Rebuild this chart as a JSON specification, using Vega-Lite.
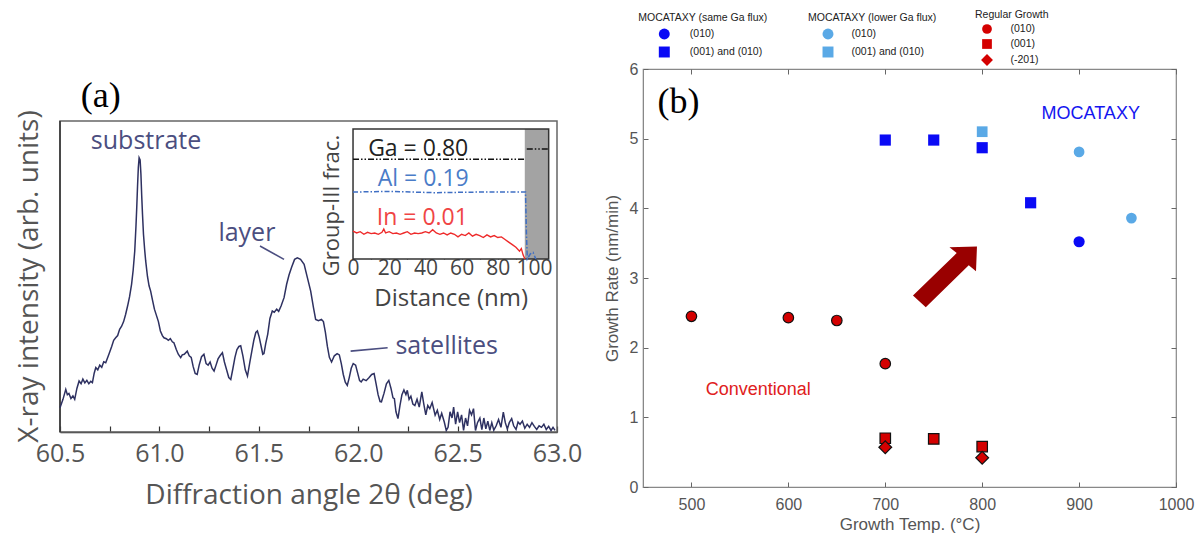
{
  "$schema": "https://vega.github.io/schema/vega-lite/v6.json",
  "background": "white",
  "padding": {"left": 15, "top": 9, "right": 0, "bottom": 0},
  "bounds": "flush",
  "spacing": 86,
  "config": {"view": {"stroke": null}, "axis": {"grid": false}},
  "datasets": {
    "xrd": [
      {"angle":60.5,"intensity":7.8},{"angle":60.515,"intensity":10.5},{"angle":60.529,"intensity":13.7},{"angle":60.537,"intensity":12.0},{"angle":60.545,"intensity":12.4},{"angle":60.555,"intensity":10.8},{"angle":60.565,"intensity":11.6},{"angle":60.574,"intensity":10.5},{"angle":60.585,"intensity":14.0},{"angle":60.596,"intensity":16.4},{"angle":60.606,"intensity":15.5},{"angle":60.615,"intensity":17.0},{"angle":60.625,"intensity":15.8},{"angle":60.635,"intensity":16.6},{"angle":60.645,"intensity":15.5},{"angle":60.655,"intensity":16.3},{"angle":60.663,"intensity":15.9},{"angle":60.672,"intensity":18.9},{"angle":60.68,"intensity":20.7},{"angle":60.69,"intensity":20.0},{"angle":60.7,"intensity":21.5},{"angle":60.71,"intensity":20.8},{"angle":60.72,"intensity":22.6},{"angle":60.73,"intensity":22.3},{"angle":60.746,"intensity":25.0},{"angle":60.76,"intensity":27.5},{"angle":60.77,"intensity":29.5},{"angle":60.78,"intensity":30.3},{"angle":60.79,"intensity":31.0},{"angle":60.8,"intensity":33.0},{"angle":60.81,"intensity":34.0},{"angle":60.82,"intensity":35.5},{"angle":60.83,"intensity":37.8},{"angle":60.84,"intensity":40.5},{"angle":60.85,"intensity":43.5},{"angle":60.86,"intensity":47.5},{"angle":60.868,"intensity":52.0},{"angle":60.876,"intensity":58.2},{"angle":60.882,"intensity":66.0},{"angle":60.886,"intensity":72.1},{"angle":60.89,"intensity":79.0},{"angle":60.894,"intensity":85.0},{"angle":60.898,"intensity":88.2},{"angle":60.903,"intensity":87.5},{"angle":60.907,"intensity":83.0},{"angle":60.911,"intensity":76.0},{"angle":60.915,"intensity":70.0},{"angle":60.92,"intensity":63.5},{"angle":60.926,"intensity":58.5},{"angle":60.931,"intensity":55.0},{"angle":60.94,"intensity":50.0},{"angle":60.948,"intensity":47.0},{"angle":60.956,"intensity":45.3},{"angle":60.965,"intensity":42.5},{"angle":60.975,"intensity":39.5},{"angle":60.985,"intensity":37.5},{"angle":60.995,"intensity":35.5},{"angle":61.005,"intensity":32.5},{"angle":61.015,"intensity":31.0},{"angle":61.023,"intensity":30.3},{"angle":61.035,"intensity":30.0},{"angle":61.045,"intensity":29.5},{"angle":61.055,"intensity":30.0},{"angle":61.065,"intensity":29.0},{"angle":61.073,"intensity":28.7},{"angle":61.085,"intensity":26.5},{"angle":61.095,"intensity":25.0},{"angle":61.107,"intensity":23.9},{"angle":61.115,"intensity":24.8},{"angle":61.125,"intensity":25.0},{"angle":61.14,"intensity":26.0},{"angle":61.15,"intensity":24.5},{"angle":61.16,"intensity":24.0},{"angle":61.17,"intensity":21.0},{"angle":61.18,"intensity":18.8},{"angle":61.19,"intensity":18.5},{"angle":61.2,"intensity":21.5},{"angle":61.212,"intensity":24.2},{"angle":61.224,"intensity":25.0},{"angle":61.235,"intensity":22.0},{"angle":61.245,"intensity":21.5},{"angle":61.255,"intensity":22.5},{"angle":61.265,"intensity":20.5},{"angle":61.275,"intensity":19.6},{"angle":61.285,"intensity":21.5},{"angle":61.295,"intensity":23.5},{"angle":61.305,"intensity":24.5},{"angle":61.317,"intensity":25.5},{"angle":61.327,"intensity":22.5},{"angle":61.338,"intensity":20.0},{"angle":61.349,"intensity":17.5},{"angle":61.359,"intensity":16.9},{"angle":61.37,"intensity":20.5},{"angle":61.38,"intensity":24.0},{"angle":61.39,"intensity":26.5},{"angle":61.4,"intensity":27.5},{"angle":61.409,"intensity":27.7},{"angle":61.42,"intensity":24.5},{"angle":61.432,"intensity":20.0},{"angle":61.443,"intensity":18.0},{"angle":61.455,"intensity":22.5},{"angle":61.465,"intensity":26.0},{"angle":61.475,"intensity":29.5},{"angle":61.485,"intensity":32.0},{"angle":61.493,"intensity":32.5},{"angle":61.502,"intensity":30.5},{"angle":61.512,"intensity":27.5},{"angle":61.52,"intensity":25.0},{"angle":61.526,"intensity":25.2},{"angle":61.535,"intensity":28.5},{"angle":61.545,"intensity":31.5},{"angle":61.556,"intensity":36.5},{"angle":61.568,"intensity":38.9},{"angle":61.578,"intensity":38.5},{"angle":61.59,"intensity":39.5},{"angle":61.6,"intensity":38.8},{"angle":61.612,"intensity":40.5},{"angle":61.627,"intensity":43.2},{"angle":61.64,"intensity":47.5},{"angle":61.652,"intensity":50.5},{"angle":61.665,"intensity":53.0},{"angle":61.68,"intensity":55.5},{"angle":61.694,"intensity":56.0},{"angle":61.71,"intensity":55.5},{"angle":61.728,"intensity":53.9},{"angle":61.745,"intensity":49.5},{"angle":61.761,"intensity":45.3},{"angle":61.775,"intensity":40.0},{"angle":61.786,"intensity":36.2},{"angle":61.8,"intensity":35.8},{"angle":61.815,"intensity":36.2},{"angle":61.825,"intensity":35.5},{"angle":61.835,"intensity":32.0},{"angle":61.845,"intensity":27.5},{"angle":61.855,"intensity":24.0},{"angle":61.866,"intensity":22.5},{"angle":61.88,"intensity":24.5},{"angle":61.894,"intensity":25.2},{"angle":61.905,"intensity":24.8},{"angle":61.915,"intensity":22.0},{"angle":61.925,"intensity":18.5},{"angle":61.935,"intensity":16.0},{"angle":61.945,"intensity":15.0},{"angle":61.955,"intensity":17.5},{"angle":61.965,"intensity":20.5},{"angle":61.975,"intensity":22.0},{"angle":61.987,"intensity":21.5},{"angle":61.997,"intensity":19.0},{"angle":62.007,"intensity":16.5},{"angle":62.015,"intensity":16.1},{"angle":62.025,"intensity":17.0},{"angle":62.04,"intensity":16.5},{"angle":62.055,"intensity":17.5},{"angle":62.068,"intensity":18.5},{"angle":62.08,"intensity":18.8},{"angle":62.09,"intensity":15.5},{"angle":62.1,"intensity":12.0},{"angle":62.11,"intensity":9.8},{"angle":62.117,"intensity":9.7},{"angle":62.13,"intensity":12.5},{"angle":62.142,"intensity":15.5},{"angle":62.154,"intensity":16.6},{"angle":62.165,"intensity":14.0},{"angle":62.175,"intensity":11.0},{"angle":62.182,"intensity":10.7},{"angle":62.19,"intensity":6.5},{"angle":62.2,"intensity":4.3},{"angle":62.21,"intensity":8.5},{"angle":62.22,"intensity":12.0},{"angle":62.23,"intensity":13.5},{"angle":62.24,"intensity":12.0},{"angle":62.247,"intensity":13.4},{"angle":62.256,"intensity":10.5},{"angle":62.265,"intensity":11.5},{"angle":62.275,"intensity":9.0},{"angle":62.285,"intensity":8.5},{"angle":62.296,"intensity":10.5},{"angle":62.307,"intensity":8.0},{"angle":62.32,"intensity":12.9},{"angle":62.33,"intensity":9.0},{"angle":62.34,"intensity":5.5},{"angle":62.35,"intensity":8.5},{"angle":62.36,"intensity":7.5},{"angle":62.372,"intensity":9.5},{"angle":62.387,"intensity":5.4},{"angle":62.398,"intensity":7.0},{"angle":62.41,"intensity":4.0},{"angle":62.42,"intensity":6.0},{"angle":62.433,"intensity":3.2},{"angle":62.443,"intensity":0.5},{"angle":62.452,"intensity":1.5},{"angle":62.462,"intensity":6.5},{"angle":62.472,"intensity":4.5},{"angle":62.48,"intensity":8.0},{"angle":62.49,"intensity":2.5},{"angle":62.5,"intensity":6.5},{"angle":62.51,"intensity":3.0},{"angle":62.52,"intensity":5.5},{"angle":62.53,"intensity":0.5},{"angle":62.54,"intensity":4.5},{"angle":62.55,"intensity":2.0},{"angle":62.56,"intensity":7.0},{"angle":62.57,"intensity":5.5},{"angle":62.58,"intensity":7.5},{"angle":62.59,"intensity":0.5},{"angle":62.6,"intensity":3.0},{"angle":62.612,"intensity":4.5},{"angle":62.622,"intensity":0.8},{"angle":62.632,"intensity":4.5},{"angle":62.642,"intensity":1.0},{"angle":62.652,"intensity":3.5},{"angle":62.662,"intensity":0.5},{"angle":62.672,"intensity":3.0},{"angle":62.682,"intensity":0.6},{"angle":62.694,"intensity":2.0},{"angle":62.706,"intensity":4.0},{"angle":62.718,"intensity":1.5},{"angle":62.73,"intensity":6.4},{"angle":62.74,"intensity":3.0},{"angle":62.75,"intensity":1.0},{"angle":62.76,"intensity":3.0},{"angle":62.772,"intensity":4.3},{"angle":62.782,"intensity":2.0},{"angle":62.794,"intensity":0.8},{"angle":62.804,"intensity":3.2},{"angle":62.814,"intensity":2.5},{"angle":62.826,"intensity":3.5},{"angle":62.838,"intensity":1.2},{"angle":62.85,"intensity":2.5},{"angle":62.862,"intensity":1.5},{"angle":62.874,"intensity":3.0},{"angle":62.886,"intensity":1.8},{"angle":62.898,"intensity":0.8},{"angle":62.91,"intensity":2.0},{"angle":62.922,"intensity":1.5},{"angle":62.934,"intensity":2.5},{"angle":62.946,"intensity":0.8},{"angle":62.958,"intensity":1.8},{"angle":62.97,"intensity":0.5},{"angle":62.98,"intensity":1.5},{"angle":62.99,"intensity":0.5}
    ],
    "indium": [
      {"distance":0,"frac":0.215},{"distance":2,"frac":0.2},{"distance":4,"frac":0.21},{"distance":6,"frac":0.19},{"distance":8,"frac":0.205},{"distance":10,"frac":0.195},{"distance":12,"frac":0.2},{"distance":14,"frac":0.19},{"distance":16,"frac":0.205},{"distance":17,"frac":0.23},{"distance":18,"frac":0.2},{"distance":20,"frac":0.21},{"distance":22,"frac":0.195},{"distance":24,"frac":0.2},{"distance":26,"frac":0.19},{"distance":28,"frac":0.2},{"distance":30,"frac":0.21},{"distance":32,"frac":0.19},{"distance":34,"frac":0.2},{"distance":36,"frac":0.195},{"distance":38,"frac":0.2},{"distance":40,"frac":0.21},{"distance":42,"frac":0.2},{"distance":44,"frac":0.225},{"distance":46,"frac":0.2},{"distance":48,"frac":0.19},{"distance":50,"frac":0.2},{"distance":52,"frac":0.185},{"distance":54,"frac":0.2},{"distance":56,"frac":0.19},{"distance":58,"frac":0.17},{"distance":60,"frac":0.19},{"distance":62,"frac":0.18},{"distance":64,"frac":0.2},{"distance":66,"frac":0.175},{"distance":68,"frac":0.19},{"distance":70,"frac":0.18},{"distance":72,"frac":0.165},{"distance":74,"frac":0.185},{"distance":76,"frac":0.17},{"distance":78,"frac":0.18},{"distance":80,"frac":0.165},{"distance":82,"frac":0.17},{"distance":84,"frac":0.15},{"distance":86,"frac":0.13},{"distance":88,"frac":0.11},{"distance":90,"frac":0.09},{"distance":92,"frac":0.06},{"distance":93,"frac":0.08},{"distance":94,"frac":0.03},{"distance":95,"frac":0.0}
    ]
  },
  "hconcat": [
    {
      "width": 497,
      "height": 363,
      "view": {"stroke": null},
      "resolve": {"scale": {"x": "independent", "y": "independent"}, "axis": {"x": "independent", "y": "independent"}},
      "layer": [
        {
          "layer": [
            {
              "data": {"values": [{"angle": 60.5, "angle2": 63, "intensity": 0, "intensity2": 100}]},
              "mark": {"type": "rect", "filled": false, "stroke": "#666", "strokeWidth": 1.5},
              "encoding": {
                "x": {"field": "angle", "type": "quantitative", "title": "Diffraction angle 2θ (deg)",
                  "scale": {"domain": [60.5, 63], "nice": false, "zero": false},
                  "axis": {"orient": "bottom", "values": [60.5,60.75,61,61.25,61.5,61.75,62,62.25,62.5,62.75,63],
                    "labelExpr": "(datum.value*4)%2==0 ? format(datum.value,'.1f') : ''",
                    "tickSize": -6, "tickColor": "#333", "tickWidth": 1.2, "domainColor": "#333", "domainWidth": 1.5,
                    "labelFont": "Open Sans", "labelFontSize": 25, "labelColor": "#555", "labelPadding": 15, "labelFlush": false, "labelOverlap": false,
                    "titleFont": "Open Sans", "titleFontSize": 28, "titleColor": "#555", "titleFontWeight": "normal", "titlePadding": 15}},
                "x2": {"field": "angle2"},
                "y": {"field": "intensity", "type": "quantitative", "title": "X-ray intensity (arb. units)",
                  "scale": {"domain": [0, 116.72], "nice": false},
                  "axis": {"orient": "left", "ticks": false, "labels": false, "domain": false,
                    "titleFont": "Open Sans", "titleFontSize": 28, "titleColor": "#555", "titleFontWeight": "normal",
                    "titleX": -31, "titleY": 207, "titleAngle": -90, "titleAlign": "center", "titleBaseline": "middle"}},
                "y2": {"field": "intensity2"}
              }
            },
            {
              "data": {"values": [{"angle": 60.5, "angle2": 60.5, "intensity": 0, "intensity2": 100}]},
              "mark": {"type": "rule", "color": "#333", "strokeWidth": 1.5},
              "encoding": {
                "x": {"field": "angle", "type": "quantitative", "title": "Diffraction angle 2θ (deg)"},
                "x2": {"field": "angle2"},
                "y": {"field": "intensity", "type": "quantitative", "title": "X-ray intensity (arb. units)"},
                "y2": {"field": "intensity2"}
              }
            },
            {
              "data": {"name": "xrd"},
              "mark": {"type": "line", "color": "#2e3161", "strokeWidth": 1.5},
              "encoding": {
                "x": {"field": "angle", "type": "quantitative", "title": "Diffraction angle 2θ (deg)"},
                "y": {"field": "intensity", "type": "quantitative", "title": "X-ray intensity (arb. units)"}
              }
            },
            {
              "data": {"values": [
                {"label": "substrate", "angle": 60.933, "intensity": 93.6},
                {"label": "layer", "angle": 61.44, "intensity": 64.1},
                {"label": "satellites", "angle": 62.445, "intensity": 27.7}
              ]},
              "mark": {"type": "text", "font": "Open Sans", "fontSize": 25, "color": "#4b4e80"},
              "encoding": {
                "x": {"field": "angle", "type": "quantitative", "title": "Diffraction angle 2θ (deg)"},
                "y": {"field": "intensity", "type": "quantitative", "title": "X-ray intensity (arb. units)"},
                "text": {"field": "label"}
              }
            },
            {
              "data": {"values": [{"label": "(a)", "angle": 60.705, "intensity": 108.0}]},
              "mark": {"type": "text", "font": "Liberation Serif", "fontSize": 36, "color": "black"},
              "encoding": {
                "x": {"field": "angle", "type": "quantitative", "title": "Diffraction angle 2θ (deg)"},
                "y": {"field": "intensity", "type": "quantitative", "title": "X-ray intensity (arb. units)"},
                "text": {"field": "label"}
              }
            },
            {
              "data": {"values": [
                {"angle": 61.506, "angle2": 61.627, "intensity": 59.8, "intensity2": 55.5},
                {"angle": 61.962, "angle2": 62.148, "intensity": 26.0, "intensity2": 27.1}
              ]},
              "mark": {"type": "rule", "color": "#4b4e80", "strokeWidth": 1.6},
              "encoding": {
                "x": {"field": "angle", "type": "quantitative", "title": "Diffraction angle 2θ (deg)"},
                "x2": {"field": "angle2"},
                "y": {"field": "intensity", "type": "quantitative", "title": "X-ray intensity (arb. units)"},
                "y2": {"field": "intensity2"}
              }
            }
          ]
        },
        {
          "layer": [
            {
              "data": {"values": [{"distance": 0, "distance2": 108.1, "frac": 0, "frac2": 1}]},
              "mark": {"type": "rect", "fill": "white"},
              "encoding": {
                "x": {"field": "distance", "type": "quantitative", "title": "Distance (nm)",
                  "scale": {"domain": [-161.9, 112.7], "nice": false, "zero": false},
                  "axis": {"orient": "bottom", "offset": -173, "domain": false, "ticks": false, "values": [0,20,40,60,80,100],
                    "labelFont": "Open Sans", "labelFontSize": 21, "labelColor": "#444", "labelPadding": -2, "labelFlush": false, "labelOverlap": false,
                    "title": null}},
                "x2": {"field": "distance2"},
                "y": {"field": "frac", "type": "quantitative", "title": "Group-III frac.",
                  "scale": {"domain": [-1.331, 1.4615], "nice": false, "zero": false}, "axis": null},
                "y2": {"field": "frac2"}
              }
            },
            {
              "data": {"values": [{"distance": 94.9, "distance2": 108.1, "frac": 0, "frac2": 1}]},
              "mark": {"type": "rect", "fill": "#a3a3a3"},
              "encoding": {
                "x": {"field": "distance", "type": "quantitative", "title": "Distance (nm)"},
                "x2": {"field": "distance2"},
                "y": {"field": "frac", "type": "quantitative", "title": "Group-III frac."},
                "y2": {"field": "frac2"}
              }
            }
          ]
        },
        {
          "layer": [
            {
              "data": {"values": [{"distance": 0, "distance2": 108.1, "frac": 0, "frac2": 1}]},
              "mark": {"type": "rect", "filled": false, "stroke": "#333", "strokeWidth": 1.5},
              "encoding": {
                "x": {"field": "distance", "type": "quantitative", "title": "Distance (nm)",
                  "scale": {"domain": [-161.9, 112.7], "nice": false, "zero": false},
                  "axis": {"orient": "bottom", "offset": -173, "domain": false, "labels": false, "values": [0,10,20,30,40,50,60,70,80,90,100],
                    "tickSize": -5, "tickColor": "#333", "tickWidth": 1.2,
                    "titleFont": "Open Sans", "titleFontSize": 24, "titleColor": "#444", "titleFontWeight": "normal",
                    "titleX": 390.7, "titleY": 39, "titleBaseline": "middle", "titleAlign": "center"}},
                "x2": {"field": "distance2"},
                "y": {"field": "frac", "type": "quantitative", "title": "Group-III frac.",
                  "scale": {"domain": [-1.331, 1.4615], "nice": false, "zero": false},
                  "axis": {"orient": "left", "offset": -293, "domain": false, "labels": false,
                    "values": [0.1,0.2,0.3,0.4,0.5,0.6,0.7,0.8,0.9],
                    "tickSize": -5, "tickColor": "#333", "tickWidth": 1.2,
                    "titleFont": "Open Sans", "titleFontSize": 22, "titleColor": "#444", "titleFontWeight": "normal",
                    "titleX": -22, "titleY": 136, "titleBaseline": "middle", "titleAlign": "center", "titleAngle": -90}},
                "y2": {"field": "frac2"}
              }
            },
            {
              "data": {"values": [
                {"seg": "a", "distance": 0, "frac": 0.767}, {"seg": "a", "distance": 95, "frac": 0.767},
                {"seg": "b", "distance": 96, "frac": 0.846}, {"seg": "b", "distance": 108, "frac": 0.846}
              ]},
              "mark": {"type": "line", "color": "#111", "strokeWidth": 1.5, "strokeDash": [6, 2, 1.5, 2, 1.5, 2]},
              "encoding": {
                "x": {"field": "distance", "type": "quantitative", "title": "Distance (nm)"},
                "y": {"field": "frac", "type": "quantitative", "title": "Group-III frac."},
                "detail": {"field": "seg"}
              }
            },
            {
              "data": {"values": [
                {"distance": 0, "frac": 0.515}, {"distance": 20, "frac": 0.52}, {"distance": 45, "frac": 0.51}, {"distance": 70, "frac": 0.515}, {"distance": 95.3, "frac": 0.515},
                {"distance": 95.8, "frac": 0.2}, {"distance": 96.3, "frac": 0.0}, {"distance": 98, "frac": 0.04}, {"distance": 99.5, "frac": 0.05}, {"distance": 101, "frac": 0.0}
              ]},
              "mark": {"type": "line", "color": "#3f6fc4", "strokeWidth": 1.5, "strokeDash": [5, 2, 1.5, 2]},
              "encoding": {
                "x": {"field": "distance", "type": "quantitative", "title": "Distance (nm)"},
                "y": {"field": "frac", "type": "quantitative", "title": "Group-III frac."}
              }
            },
            {
              "data": {"name": "indium"},
              "mark": {"type": "line", "color": "#ee2a2a", "strokeWidth": 1.4},
              "encoding": {
                "x": {"field": "distance", "type": "quantitative", "title": "Distance (nm)"},
                "y": {"field": "frac", "type": "quantitative", "title": "Group-III frac."}
              }
            },
            {
              "data": {"values": [
                {"label": "Ga = 0.80", "element": "Ga", "distance": 36, "frac": 0.848},
                {"label": "Al = 0.19", "element": "Al", "distance": 38.8, "frac": 0.613},
                {"label": "In = 0.01", "element": "In", "distance": 38.3, "frac": 0.318}
              ]},
              "mark": {"type": "text", "font": "Open Sans", "fontSize": 23},
              "encoding": {
                "x": {"field": "distance", "type": "quantitative", "title": "Distance (nm)"},
                "y": {"field": "frac", "type": "quantitative", "title": "Group-III frac."},
                "text": {"field": "label"},
                "color": {"field": "element", "type": "nominal", "scale": {"domain": ["Ga", "Al", "In"], "range": ["#222222", "#4a7cc8", "#f04545"]}, "legend": null}
              }
            }
          ]
        }
      ]
    },
    {
      "width": 533,
      "height": 418,
      "view": {"stroke": "#888", "strokeWidth": 1.2},
      "resolve": {"scale": {"shape": "independent"}, "axis": {"x": "independent", "y": "independent"}},
      "layer": [
        {
          "data": {"values": [
            {"temp": 700, "rate": 4.98, "orientation": "(001) and (010)"},
            {"temp": 750, "rate": 4.98, "orientation": "(001) and (010)"},
            {"temp": 800, "rate": 4.87, "orientation": "(001) and (010)"},
            {"temp": 850, "rate": 4.08, "orientation": "(001) and (010)"},
            {"temp": 900, "rate": 3.52, "orientation": "(010)"}
          ]},
          "mark": {"type": "point", "filled": true, "color": "#0a0af5", "opacity": 1, "size": 125},
          "encoding": {
            "x": {"field": "temp", "type": "quantitative", "title": "Growth Temp. (°C)",
              "scale": {"domain": [450, 1000], "nice": false, "zero": false},
              "axis": {"orient": "bottom", "values": [500,600,700,800,900,1000], "format": "d", "tickSize": -5, "tickColor": "#666", "domainColor": "#888",
                "labelFont": "Liberation Sans", "labelFontSize": 16, "labelColor": "#555", "labelPadding": 14, "labelFlush": false,
                "titleFont": "Liberation Sans", "titleFontSize": 17, "titleColor": "#555", "titleFontWeight": "normal", "titlePadding": 4}},
            "y": {"field": "rate", "type": "quantitative", "title": "Growth Rate (nm/min)",
              "scale": {"domain": [0, 6], "nice": false},
              "axis": {"orient": "left", "values": [0,1,2,3,4,5,6], "tickSize": -5, "tickColor": "#666", "domainColor": "#888",
                "labelFont": "Liberation Sans", "labelFontSize": 16, "labelColor": "#555", "labelPadding": 10, "labelFlush": false,
                "titleFont": "Liberation Sans", "titleFontSize": 17, "titleColor": "#555", "titleFontWeight": "normal", "titlePadding": 8}},
            "shape": {"field": "orientation", "type": "nominal",
              "scale": {"domain": ["(010)", "(001) and (010)"], "range": ["circle", "square"]},
              "legend": {"title": "MOCATAXY (same Ga flux)", "orient": "none", "legendX": -4.7, "legendY": -56,
                "titleFont": "Liberation Sans", "titleFontSize": 10.5, "titleFontWeight": "normal", "titleColor": "#222", "titlePadding": 5,
                "labelFont": "Liberation Sans", "labelFontSize": 10.5, "labelColor": "#222",
                "symbolFillColor": "#0a0af5", "symbolStrokeColor": "#0a0af5", "symbolStrokeWidth": 0, "symbolSize": 120, "symbolOpacity": 1,
                "symbolOffset": 20.5, "labelOffset": 20, "rowPadding": 7, "padding": 0}}
          }
        },
        {
          "data": {"values": [
            {"temp": 800, "rate": 5.1, "orientation": "(001) and (010)"},
            {"temp": 900, "rate": 4.81, "orientation": "(010)"},
            {"temp": 954, "rate": 3.86, "orientation": "(010)"}
          ]},
          "mark": {"type": "point", "filled": true, "color": "#5aa9e6", "opacity": 1, "size": 115},
          "encoding": {
            "x": {"field": "temp", "type": "quantitative", "title": "Growth Temp. (°C)", "axis": null},
            "y": {"field": "rate", "type": "quantitative", "title": "Growth Rate (nm/min)", "axis": null},
            "shape": {"field": "orientation", "type": "nominal",
              "scale": {"domain": ["(010)", "(001) and (010)"], "range": ["circle", "square"]},
              "legend": {"title": "MOCATAXY (lower Ga flux)", "orient": "none", "legendX": 165, "legendY": -56,
                "titleFont": "Liberation Sans", "titleFontSize": 10.5, "titleFontWeight": "normal", "titleColor": "#222", "titlePadding": 5,
                "labelFont": "Liberation Sans", "labelFontSize": 10.5, "labelColor": "#222",
                "symbolFillColor": "#5aa9e6", "symbolStrokeColor": "#5aa9e6", "symbolStrokeWidth": 0, "symbolSize": 120, "symbolOpacity": 1,
                "symbolOffset": 14.5, "labelOffset": 18, "rowPadding": 7, "padding": 0}}
          }
        },
        {
          "data": {"values": [
            {"temp": 500, "rate": 2.45, "orientation": "(010)"},
            {"temp": 600, "rate": 2.43, "orientation": "(010)"},
            {"temp": 650, "rate": 2.39, "orientation": "(010)"},
            {"temp": 700, "rate": 1.77, "orientation": "(010)"},
            {"temp": 700, "rate": 0.7, "orientation": "(001)"},
            {"temp": 750, "rate": 0.69, "orientation": "(001)"},
            {"temp": 800, "rate": 0.58, "orientation": "(001)"},
            {"temp": 700, "rate": 0.57, "orientation": "(-201)"},
            {"temp": 800, "rate": 0.42, "orientation": "(-201)"}
          ]},
          "mark": {"type": "point", "filled": true, "fill": "#d40000", "stroke": "#111", "strokeWidth": 1.2, "opacity": 1, "size": 110},
          "encoding": {
            "x": {"field": "temp", "type": "quantitative", "title": "Growth Temp. (°C)", "axis": null},
            "y": {"field": "rate", "type": "quantitative", "title": "Growth Rate (nm/min)", "axis": null},
            "shape": {"field": "orientation", "type": "nominal",
              "scale": {"domain": ["(010)", "(001)", "(-201)"], "range": ["circle", "square", "M0,-1.22L1.22,0L0,1.22L-1.22,0Z"]},
              "legend": {"title": "Regular Growth", "orient": "none", "legendX": 332, "legendY": -59,
                "titleFont": "Liberation Sans", "titleFontSize": 10.5, "titleFontWeight": "normal", "titleColor": "#222", "titlePadding": 3,
                "labelFont": "Liberation Sans", "labelFontSize": 10.5, "labelColor": "#222",
                "symbolFillColor": "#d40000", "symbolStrokeColor": "#111", "symbolStrokeWidth": 1.2, "symbolSize": 95, "symbolOpacity": 1,
                "symbolOffset": 6.5, "labelOffset": 18, "rowPadding": 0, "padding": 0}}
          }
        },
        {
          "data": {"values": [{"temp": 761.6, "rate": 3.016}]},
          "mark": {"type": "point", "filled": true, "color": "#990000", "opacity": 1, "size": 4096,
            "shape": "M1,-0.95L0.97,-0.18L0.743,-0.367L-0.6,0.95L-1,0.58L0.367,-0.743L0.14,-0.93Z"},
          "encoding": {
            "x": {"field": "temp", "type": "quantitative", "title": "Growth Temp. (°C)", "axis": null},
            "y": {"field": "rate", "type": "quantitative", "title": "Growth Rate (nm/min)", "axis": null}
          }
        },
        {
          "data": {"values": [{"label": "MOCATAXY", "temp": 912, "rate": 5.36}]},
          "mark": {"type": "text", "font": "Liberation Sans", "fontSize": 18, "color": "#1515f0"},
          "encoding": {
            "x": {"field": "temp", "type": "quantitative", "title": "Growth Temp. (°C)",
              "axis": {"orient": "top", "values": [500,600,700,800,900,1000], "labels": false, "domain": false, "tickSize": -5, "tickColor": "#666", "title": null}},
            "y": {"field": "rate", "type": "quantitative", "title": "Growth Rate (nm/min)",
              "axis": {"orient": "right", "values": [0,1,2,3,4,5,6], "labels": false, "domain": false, "tickSize": -5, "tickColor": "#666", "title": null}},
            "text": {"field": "label"}
          }
        },
        {
          "data": {"values": [{"label": "Conventional", "temp": 569, "rate": 1.39}]},
          "mark": {"type": "text", "font": "Liberation Sans", "fontSize": 18, "color": "#e02020"},
          "encoding": {
            "x": {"field": "temp", "type": "quantitative", "title": "Growth Temp. (°C)", "axis": null},
            "y": {"field": "rate", "type": "quantitative", "title": "Growth Rate (nm/min)", "axis": null},
            "text": {"field": "label"}
          }
        },
        {
          "data": {"values": [{"label": "(b)", "temp": 486.6, "rate": 5.52}]},
          "mark": {"type": "text", "font": "Liberation Serif", "fontSize": 36, "color": "black"},
          "encoding": {
            "x": {"field": "temp", "type": "quantitative", "title": "Growth Temp. (°C)", "axis": null},
            "y": {"field": "rate", "type": "quantitative", "title": "Growth Rate (nm/min)", "axis": null},
            "text": {"field": "label"}
          }
        }
      ]
    }
  ]
}
